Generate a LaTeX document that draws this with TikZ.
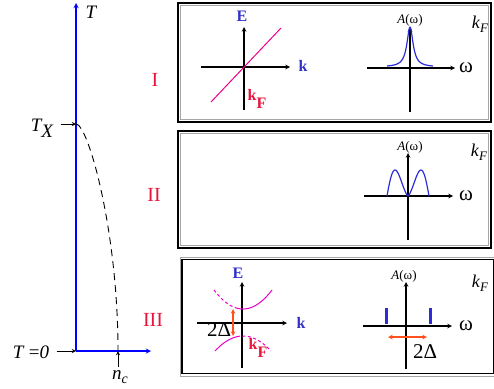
\documentclass[tikz,border=0pt]{standalone}
\usepackage{fontspec}
\setmainfont{Liberation Serif}
\definecolor{numred}{RGB}{232,20,60}
\definecolor{lblblue}{RGB}{50,50,200}
\definecolor{specblue}{RGB}{45,45,215}
\definecolor{bandpink}{RGB}{235,0,200}
\definecolor{gapred}{RGB}{255,80,30}
\newcommand{\kFlbl}{\textit{k}\raisebox{-4pt}{\fontsize{13}{13}\selectfont\textit{F}}}
\begin{document}
\begin{tikzpicture}
	[	x=1pt,y=-1pt,>=stealth,
	panel/.style={draw=black,line width=1.2pt},
	panelin/.style={draw=black!35,line width=.8pt},
	axis/.style={->,draw=black,line width=1.1pt},
	baxis/.style={->,draw=blue,line width=1.3pt},
	pointer/.style={->,draw=black,line width=.9pt},
	spec/.style={draw=specblue,line width=1.2pt},
	band/.style={draw=bandpink,line width=1pt},
	gap/.style={<->,draw=gapred,line width=1.1pt},
	num/.style={text=numred,font=\fontsize{20}{20}\selectfont},
	blbl/.style={text=lblblue,font=\fontsize{16}{16}\selectfont\bfseries},
	kf/.style={text=numred,font=\fontsize{16}{16}\selectfont\bfseries},
	aw/.style={font=\fontsize{13}{13}\selectfont},
	om/.style={font=\fontsize{21}{21}\selectfont},
	plain/.style={font=\fontsize{19}{19}\selectfont\itshape},
	kfit/.style={font=\fontsize{18}{18}\selectfont}
	]
	\useasboundingbox (0,0) rectangle (494,388);

	\coordinate (o) at (76,351);
	\coordinate (ttop) at (76,3);
	\coordinate (nend) at (151,351);
	\coordinate (tx) at (76,124);
	\coordinate (nc) at (118,351);
	\draw[baxis] (o) -- (ttop);
	\draw[baxis] (o) -- (nend);
	\draw[dashed,dash pattern=on 7pt off 5pt,line width=.9pt] (tx) .. controls (88,124) and (118,230) .. (nc);
	\node[plain] (T) at (91,12){T};
	\node[plain] (TX) at (42,128){T\raisebox{-6pt}{X}};
	\node[plain] (T0) at (31,352){T\;{\upshape =}0};
	\node[plain] (nclbl) at (120,377){n\raisebox{-4pt}{\fontsize{14}{14}\selectfont c}};
	\draw[pointer] ([xshift=4pt]TX.east|-tx) -- (tx);
	\draw[pointer] ([xshift=4pt]T0.east|-o) -- (o);
	\draw[pointer] (nclbl.north-|nc) -- (nc);

	\node[num] (n1) at (155,80){I};
	\node[num] (n2) at (154,195){II};
	\node[num] (n3) at (153,320){III};

	\draw[panel] (178,3) rectangle (491,122);
	\draw[panelin] (180.5,5.5) rectangle (488.5,119.5);
	\draw[panel] (178,131) rectangle (491,248);
	\draw[panelin] (180.5,133.5) rectangle (488.5,245.5);
	\draw[panelin] (180,257) rectangle (494,376);
	\draw[panel] (182,259.5) rectangle (494,373.5);

	\coordinate (a1l) at (201,67);
	\coordinate (a1r) at (290,67);
	\coordinate (a1b) at (244,110);
	\coordinate (a1t) at (244,27);
	\draw[axis] (a1l) -- (a1r);
	\draw[axis] (a1b) -- (a1t);
	\coordinate (d1a) at (211,102);
	\coordinate (d1b) at (281,28);
	\draw[band,draw=magenta] (d1a) -- (d1b);
	\node[blbl] (E1) at (242,16){E};
	\node[blbl] (k1) at (303,66){k};
	\node[kf] (kf1) at (257,99){k\raisebox{-8pt}{F}};

	\coordinate (w1l) at (367,68);
	\coordinate (w1r) at (455,68);
	\coordinate (w1b) at (410,112);
	\coordinate (w1t) at (410,27);
	\draw[axis] (w1l) -- (w1r);
	\draw[axis] (w1b) -- (w1t);
	\draw[spec] plot[domain=-23:23,samples=90,smooth] ({410+\x},{67-40/(1+(\x/3.7)^2)});
	\node[aw] (A1) at (410,20){\textit{A}(ω)};
	\node[om] (om1) at (466,68){ω};
	\node[kfit] (kF1) at (480,24){\kFlbl};

	\coordinate (w2l) at (364,196);
	\coordinate (w2r) at (453,196);
	\coordinate (w2b) at (408,240);
	\coordinate (w2t) at (408,153);
	\draw[axis] (w2l) -- (w2r);
	\draw[axis] (w2b) -- (w2t);
	\draw[spec] plot[domain=-21:21,samples=80,smooth] ({408+\x},{196-26*sin(180*(abs(\x)/21)^1.44)});
	\node[aw] (A2) at (410,147){\textit{A}(ω)};
	\node[om] (om2) at (466,196){ω};
	\node[kfit] (kF2) at (479,152){\kFlbl};

	\coordinate (a3l) at (197,323);
	\coordinate (a3r) at (287,323);
	\coordinate (a3b) at (242,368);
	\coordinate (a3t) at (242,282);
	\draw[axis] (a3l) -- (a3r);
	\draw[axis] (a3b) -- (a3t);
	\draw[band,dashed,dash pattern=on 3pt off 2.5pt] plot[domain=-29:-8,samples=30,smooth] ({243+\x},{309-19*(\x/29)^2});
	\draw[band] plot[domain=-8:29,samples=40,smooth] ({243+\x},{309-19*(\x/29)^2});
	\draw[band] plot[domain=-28:-6,samples=30,smooth] ({243+\x},{336+15*(\x/28)^2});
	\draw[band,dashed,dash pattern=on 3pt off 2.5pt] plot[domain=-6:28,samples=40,smooth] ({243+\x},{336+15*(\x/28)^2});
	\coordinate (g1t) at (233,309);
	\coordinate (g1b) at (233,336);
	\draw[gap] (g1t) -- (g1b);
	\node[om] (D1) at (219,330){2Δ};
	\node[blbl] (E3) at (238,273){E};
	\node[blbl] (k3) at (301,323){k};
	\node[kf] (kf3) at (258,348){k\raisebox{-8pt}{F}};

	\coordinate (w3l) at (363,326);
	\coordinate (w3r) at (452,326);
	\coordinate (w3b) at (406,369);
	\coordinate (w3t) at (406,282);
	\draw[axis] (w3l) -- (w3r);
	\draw[axis] (w3b) -- (w3t);
	\coordinate (p1t) at (386,308);
	\coordinate (p1b) at (386,324);
	\coordinate (p2t) at (430,308);
	\coordinate (p2b) at (430,324);
	\draw[spec,line width=3pt] (p1t) -- (p1b);
	\draw[spec,line width=3pt] (p2t) -- (p2b);
	\coordinate (g2l) at (388,337);
	\coordinate (g2r) at (427,337);
	\draw[gap] (g2l) -- (g2r);
	\node[om] (D2) at (425,352){2Δ};
	\node[aw] (A3) at (404,276){\textit{A}(ω)};
	\node[om] (om3) at (466,326){ω};
	\node[kfit] (kF3) at (480,283){\kFlbl};
\end{tikzpicture}
\end{document}
